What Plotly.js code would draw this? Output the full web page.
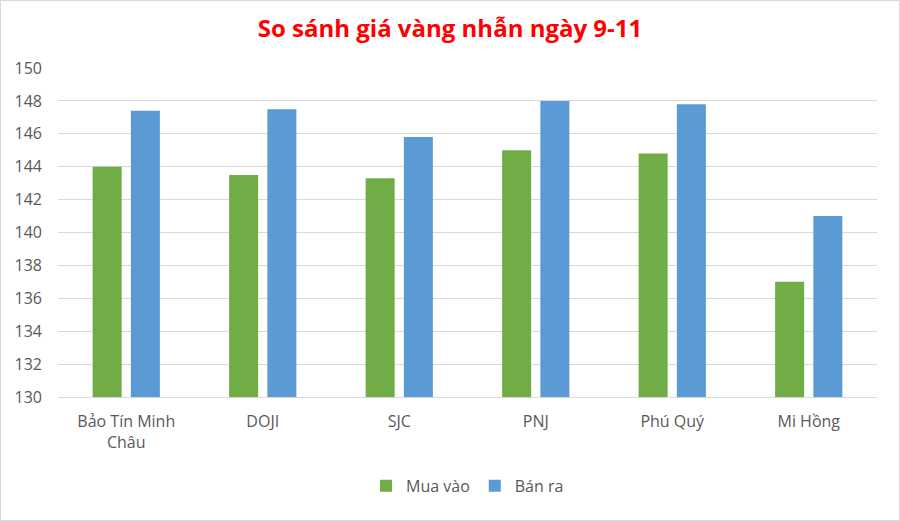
<!DOCTYPE html>
<html>
<head>
<meta charset="utf-8">
<script src="https://cdn.plot.ly/plotly-3.0.1.min.js"></script>
<style>
html,body{margin:0;padding:0;background:#fff;}
#chart{width:898px;height:519px;border:1px solid #d9d9d9;}
</style>
</head>
<body>
<div id="chart"></div>
<script>
const categories = ["Bảo Tín Minh<br>Châu", "DOJI", "SJC", "PNJ", "Phú Quý", "Mi Hồng"];
const muaVao = [144.0, 143.5, 143.3, 145.0, 144.8, 137.0];
const banRa = [147.4, 147.5, 145.8, 148.0, 147.8, 141.0];
const yTicks = [130, 132, 134, 136, 138, 140, 142, 144, 146, 148, 150];

const traces = [
  {type: "bar", name: "Mua vào", x: categories, y: muaVao, marker: {color: "#70AD47"}},
  {type: "bar", name: "Bán ra", x: categories, y: banRa, marker: {color: "#5B9BD5"}}
];

const layout = {
  width: 898, height: 519,
  margin: {l: 57, r: 22, t: 67, b: 123},
  paper_bgcolor: "#fff", plot_bgcolor: "#fff",
  font: {family: "Open Sans, Liberation Sans, sans-serif", color: "#595959", size: 16},
  title: {text: "<b>So sánh giá vàng nhẫn ngày 9-11</b>", font: {size: 24, color: "#FF0000", family: "Open Sans, sans-serif"}, x: 0.5, xanchor: "center", y: 0.947, yanchor: "middle"},
  barmode: "group",
  bargap: 0.44,
  bargroupgap: 0.24,
  xaxis: {showgrid: false, showline: true, linecolor: "#d9d9d9", ticks: "", tickfont: {size: 16, color: "#595959"}, ticklabelstandoff: 10},
  yaxis: {range: [130, 150], tickvals: yTicks, showgrid: true, gridcolor: "#d9d9d9", gridwidth: 1, zeroline: false, ticks: "", tickfont: {size: 16, color: "#595959"}, ticklabelstandoff: 15},
  legend: {orientation: "h", x: 0.5, xanchor: "center", y: -0.27, yanchor: "middle", font: {size: 16, color: "#595959"}, itemwidth: 30},
  showlegend: true
};

Plotly.newPlot("chart", traces, layout, {displayModeBar: false, staticPlot: true});
</script>
</body>
</html>
